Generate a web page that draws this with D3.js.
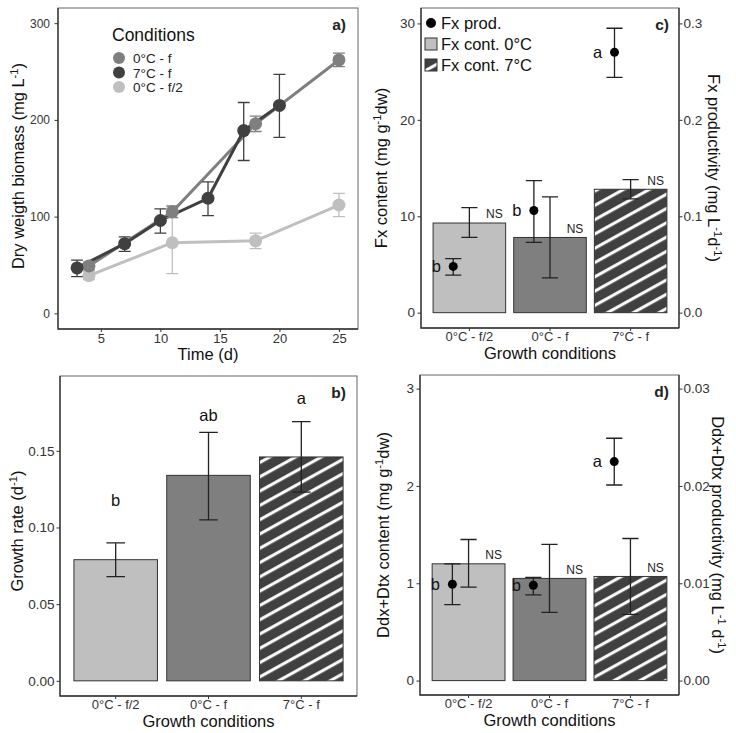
<!DOCTYPE html>
<html>
<head>
<meta charset="utf-8">
<script src="https://cdn.jsdelivr.net/npm/d3@7"></script>
<style>
  body { margin: 0; background: #fff; }
  text { font-family: Arial, "Liberation Sans", sans-serif; }
</style>
</head>
<body>
<svg id="fig" width="736" height="733"></svg>
<script>
// ---- data ----
const conditions = ['0°C - f/2', '0°C - f', '7°C - f'];

// a) biomass time course
const days0f = [4, 11, 18, 25];
const biomass0f = [49, 105, 196, 262];
const biomass0fLo = [45, 99, 188, 255];
const biomass0fHi = [53, 111, 204, 269];
const days7f = [3, 7, 10, 14, 17, 20];
const biomass7f = [47, 72, 96, 119, 189, 215];
const biomass7fLo = [38, 64, 83, 101, 158, 182];
const biomass7fHi = [55, 79, 108, 136, 218, 247];
const days0f2 = [4, 11, 18, 25];
const biomass0f2 = [39, 73, 75, 112];
const biomass0f2Lo = [35, 41, 67, 100];
const biomass0f2Hi = [43, 105, 83, 124];

// b) growth rate
const growthRate = [0.079, 0.134, 0.146];
const growthLo = [0.068, 0.105, 0.123];
const growthHi = [0.090, 0.162, 0.169];
const growthLetters = ['b', 'ab', 'a'];
const growthLetterY = [0.118, 0.173, 0.184];

// c) fucoxanthin
const fxContent = [9.3, 7.8, 12.8];
const fxContentLo = [7.8, 3.6, 11.8];
const fxContentHi = [10.9, 12.0, 13.8];
const fxProd = [0.048, 0.106, 0.270];
const fxProdLo = [0.039, 0.073, 0.244];
const fxProdHi = [0.056, 0.137, 0.295];
const fxLetters = ['b', 'b', 'a'];
const fxNS = [10.3, 8.7, 13.7];

// d) Ddx+Dtx
const ddxContent = [1.20, 1.05, 1.07];
const ddxContentLo = [0.96, 0.70, 0.68];
const ddxContentHi = [1.45, 1.40, 1.46];
const ddxProd = [0.0099, 0.0098, 0.0225];
const ddxProdLo = [0.0078, 0.0088, 0.0201];
const ddxProdHi = [0.0120, 0.0106, 0.0249];
const ddxLetters = ['b', 'b', 'a'];
const ddxNS = [1.29, 1.14, 1.16];

// tick labels
const ticksTime = [5, 10, 15, 20, 25];
const ticksBiomass = [0, 100, 200, 300];
const ticksGrowth = [0, 0.05, 0.10, 0.15];
const ticksFx = [0, 10, 20, 30];
const ticksFxProd = [0, 0.1, 0.2, 0.3];
const ticksDdx = [0, 1, 2, 3];
const ticksDdxProd = [0, 0.01, 0.02, 0.03];

// ---- styles ----
const cLight = '#bfbfbf', cMid = '#7f7f7f', cDark = '#404040';
const barFill = [cLight, cMid, 'url(#hatch)'];
const tickFont = '13px', yTickFont = '13.5px', titleFont = '16.5px';

const svg = d3.select('#fig');

const defs = svg.append('defs');
const hatch = defs.append('pattern')
  .attr('id', 'hatch')
  .attr('patternUnits', 'userSpaceOnUse')
  .attr('width', 12.5).attr('height', 12.5)
  .attr('patternTransform', 'rotate(-29)');
hatch.append('rect').attr('width', 12.5).attr('height', 12.5).attr('fill', cDark);
hatch.append('rect').attr('y', 4).attr('width', 12.5).attr('height', 3).attr('fill', '#fff');

// text with superscripts: parts = [['text'], ['-1', true], ...]
function rich(sel, parts) {
  let dy = 0;
  parts.forEach(p => {
    const t = sel.append('tspan').text(p[0]);
    if (p[1]) {
      t.attr('dy', dy - 6).attr('font-size', '0.68em');
      dy = 6;
    } else {
      if (dy) t.attr('dy', dy);
      dy = 0;
    }
  });
}

function frame(box) {
  svg.append('rect')
    .attr('x', box.l).attr('y', box.t)
    .attr('width', box.r - box.l).attr('height', box.b - box.t)
    .attr('fill', 'none').attr('stroke', '#666').attr('stroke-width', 1);
  svg.append('path')
    .attr('d', `M${box.l},${box.t}V${box.b}H${box.r}`)
    .attr('fill', 'none').attr('stroke', '#333').attr('stroke-width', 1.3);
}

function styleAxis(g, size) {
  g.select('.domain').remove();
  g.selectAll('.tick line').attr('stroke', '#333');
  g.selectAll('.tick text').attr('fill', '#333').style('font-size', size || tickFont);
}

function panelTag(x, y, label) {
  svg.append('text').attr('x', x).attr('y', y)
    .attr('text-anchor', 'end').style('font-size', '15.5px').style('font-weight', 'bold')
    .attr('fill', '#222').text(label);
}

function yTitle(x, y, parts, rot) {
  const t = svg.append('text')
    .attr('transform', `translate(${x},${y}) rotate(${rot || -90})`)
    .attr('text-anchor', 'middle').attr('dy', '0.35em')
    .style('font-size', titleFont).attr('fill', '#111');
  rich(t, parts);
}

function xTitle(x, y, txt) {
  svg.append('text').attr('x', x).attr('y', y)
    .attr('text-anchor', 'middle').style('font-size', titleFont).attr('fill', '#111')
    .text(txt);
}

function errorBars(g, xs, lo, hi, y, half, color) {
  xs.forEach((x, i) => {
    g.append('path')
      .attr('d', `M${x},${y(lo[i])}V${y(hi[i])}M${x - half},${y(lo[i])}H${x + half}M${x - half},${y(hi[i])}H${x + half}`)
      .attr('fill', 'none').attr('stroke', color).attr('stroke-width', 1.3);
  });
}

// ---- panel a ----
(function () {
  const box = { l: 58, t: 8, r: 358, b: 329 };
  const x = d3.scaleLinear().domain([1.4, 26.6]).range([box.l, box.r]);
  const y = d3.scaleLinear().domain([-16.2, 315.7]).range([box.b, box.t]);
  frame(box);

  const series = [
    { days: days0f2, v: biomass0f2, lo: biomass0f2Lo, hi: biomass0f2Hi, c: cLight },
    { days: days0f, v: biomass0f, lo: biomass0fLo, hi: biomass0fHi, c: cMid },
    { days: days7f, v: biomass7f, lo: biomass7fLo, hi: biomass7fHi, c: cDark }
  ];
  const g = svg.append('g');
  const line = d3.line().x(d => x(d[0])).y(d => y(d[1]));
  series.forEach(s => {
    g.append('path')
      .attr('d', line(d3.zip(s.days, s.v)))
      .attr('fill', 'none').attr('stroke', s.c).attr('stroke-width', 3);
  });
  const half = (x(1) - x(0)) / 2;
  series.forEach(s => errorBars(g, s.days.map(x), s.lo, s.hi, y, half, s.c));
  series.forEach(s => {
    g.selectAll(null).data(d3.zip(s.days, s.v)).enter()
      .append('circle')
      .attr('cx', d => x(d[0])).attr('cy', d => y(d[1]))
      .attr('r', 6.5).attr('fill', s.c);
  });

  const ax = svg.append('g').attr('transform', `translate(0,${box.b})`)
    .call(d3.axisBottom(x).tickValues(ticksTime).tickSize(3).tickPadding(1.5));
  styleAxis(ax, '13px');
  const ay = svg.append('g').attr('transform', `translate(${box.l},0)`)
    .call(d3.axisLeft(y).tickValues(ticksBiomass).tickSize(3.5).tickPadding(4.5));
  styleAxis(ay, '12px');

  // legend
  const leg = svg.append('g');
  leg.append('text').attr('x', 112).attr('y', 41).style('font-size', '17.5px').attr('fill', '#111').text('Conditions');
  const legItems = [['0°C - f', cMid], ['7°C - f', cDark], ['0°C - f/2', cLight]];
  legItems.forEach((d, i) => {
    const yy = 58 + i * 14.5;
    leg.append('circle').attr('cx', 119).attr('cy', yy).attr('r', 6).attr('fill', d[1]);
    leg.append('text').attr('x', 133).attr('y', yy + 5).style('font-size', '13.5px').attr('fill', '#222').text(d[0]);
  });

  panelTag(346, 30, 'a)');
  yTitle(18, 166, [['Dry weigth biomass (mg L'], ['-1', true], [')']]);
  xTitle((box.l + box.r) / 2, box.b + 31, 'Time (d)');
})();

// ---- bar panels ----
function bandScale(box) {
  return d3.scaleBand().domain(conditions).range([box.l, box.r]).paddingInner(0.1).paddingOuter(0.15);
}

function bars(g, x, y, values) {
  g.selectAll(null).data(values).enter()
    .append('rect')
    .attr('x', (d, i) => x(conditions[i]))
    .attr('width', x.bandwidth())
    .attr('y', d => y(d))
    .attr('height', d => y(0) - y(d))
    .attr('fill', (d, i) => barFill[i])
    .attr('stroke', '#333').attr('stroke-width', 1);
}

function xAxisBand(box, x) {
  const ax = svg.append('g').attr('transform', `translate(0,${box.b})`)
    .call(d3.axisBottom(x).tickSize(3).tickPadding(1));
  styleAxis(ax);
}

// ---- panel b ----
(function () {
  const box = { l: 60, t: 376, r: 357, b: 696 };
  const x = bandScale(box);
  const y = d3.scaleLinear().domain([-0.0099, 0.1988]).range([box.b, box.t]);
  frame(box);
  const g = svg.append('g');
  bars(g, x, y, growthRate);
  const cx = conditions.map(c => x(c) + x.bandwidth() / 2);
  errorBars(g, cx, growthLo, growthHi, y, x.step() * 0.1, '#222');
  g.selectAll(null).data(growthLetters).enter()
    .append('text')
    .attr('x', (d, i) => cx[i]).attr('y', (d, i) => y(growthLetterY[i]))
    .attr('dy', '0.35em').attr('text-anchor', 'middle')
    .style('font-size', '16.5px').attr('fill', '#111').text(d => d);

  xAxisBand(box, x);
  const ay = svg.append('g').attr('transform', `translate(${box.l},0)`)
    .call(d3.axisLeft(y).tickValues(ticksGrowth).tickFormat(d3.format('.2f')).tickSize(3.5).tickPadding(2));
  styleAxis(ay, yTickFont);

  panelTag(346, 398, 'b)');
  yTitle(17, 531, [['Growth rate (d'], ['-1', true], [')']]);
  xTitle((box.l + box.r) / 2, box.b + 31, 'Growth conditions');
})();

// pigment panel (c and d)
function pigmentPanel(opt) {
  const box = opt.box;
  const x = bandScale(box);
  const y = d3.scaleLinear().domain(opt.domain).range([box.b, box.t]);
  const y2 = d3.scaleLinear().domain(opt.domain.map(v => v / 100)).range([box.b, box.t]);
  frame(box);
  svg.append('line').attr('x1', box.r).attr('x2', box.r).attr('y1', box.t).attr('y2', box.b)
    .attr('stroke', '#333').attr('stroke-width', 1.3);

  const g = svg.append('g');
  bars(g, x, y, opt.content);
  const cx = conditions.map(c => x(c) + x.bandwidth() / 2);
  const px = cx.map(v => v - x.step() * 0.2);
  const half = x.step() * 0.1;
  errorBars(g, cx, opt.contentLo, opt.contentHi, y, half, '#222');
  errorBars(g, px, opt.prodLo, opt.prodHi, y2, half, '#222');
  g.selectAll(null).data(opt.prod).enter()
    .append('circle')
    .attr('cx', (d, i) => px[i]).attr('cy', d => y2(d))
    .attr('r', 4.5).attr('fill', '#000');
  g.selectAll(null).data(opt.letters).enter()
    .append('text')
    .attr('x', (d, i) => px[i] - 17).attr('y', (d, i) => y2(opt.prod[i]))
    .attr('dy', '0.35em').attr('text-anchor', 'middle')
    .style('font-size', '16.5px').attr('fill', '#111').text(d => d);
  g.selectAll(null).data(opt.ns).enter()
    .append('text')
    .attr('x', (d, i) => cx[i] + x.step() * 0.31).attr('y', d => y(d))
    .attr('dy', '0.35em').attr('text-anchor', 'middle')
    .style('font-size', '12px').attr('fill', '#222').text('NS');

  xAxisBand(box, x);
  const ay = svg.append('g').attr('transform', `translate(${box.l},0)`)
    .call(d3.axisLeft(y).tickValues(opt.ticks).tickFormat(d3.format('d')).tickSize(3.5).tickPadding(2.5));
  styleAxis(ay, yTickFont);
  const ay2 = svg.append('g').attr('transform', `translate(${box.r},0)`)
    .call(d3.axisRight(y2).tickValues(opt.ticks2).tickFormat(d3.format(opt.fmt2)).tickSize(3.5).tickPadding(1));
  styleAxis(ay2, yTickFont);

  panelTag(box.r - 10, box.t + 22, opt.tag);
  yTitle(opt.titleX, (box.t + box.b) / 2, opt.title);
  yTitle(opt.title2X, (box.t + box.b) / 2, opt.title2, 90);
  xTitle((box.l + box.r) / 2, box.b + 31, 'Growth conditions');
}

pigmentPanel({
  box: { l: 421, t: 8, r: 679, b: 328 },
  domain: [-1.59, 31.6],
  content: fxContent, contentLo: fxContentLo, contentHi: fxContentHi,
  prod: fxProd, prodLo: fxProdLo, prodHi: fxProdHi,
  letters: fxLetters, ns: fxNS,
  ticks: ticksFx, ticks2: ticksFxProd, fmt2: '.1f',
  tag: 'c)',
  titleX: 381, title: [['Fx content (mg g'], ['-1', true], ['dw)']],
  title2X: 714, title2: [['Fx productivity (mg L'], ['-1', true], ['d'], ['-1', true], [')']]
});

pigmentPanel({
  box: { l: 420, t: 375, r: 679, b: 695 },
  domain: [-0.148, 3.14],
  content: ddxContent, contentLo: ddxContentLo, contentHi: ddxContentHi,
  prod: ddxProd, prodLo: ddxProdLo, prodHi: ddxProdHi,
  letters: ddxLetters, ns: ddxNS,
  ticks: ticksDdx, ticks2: ticksDdxProd, fmt2: '.2f',
  tag: 'd)',
  titleX: 383, title: [['Ddx+Dtx content (mg g'], ['-1', true], ['dw)']],
  title2X: 718, title2: [['Ddx+Dtx productivity (mg L'], ['-1', true], [' d'], ['-1', true], [')']]
});

// legend c
(function () {
  const leg = svg.append('g');
  const items = [['Fx prod.', 'pt'], ['Fx cont. 0°C', cLight], ['Fx cont. 7°C', 'url(#hatch)']];
  items.forEach((d, i) => {
    const yy = 23 + i * 21;
    if (d[1] === 'pt') {
      leg.append('circle').attr('cx', 431).attr('cy', yy).attr('r', 5).attr('fill', '#000');
    } else {
      leg.append('rect').attr('x', 425).attr('y', yy - 6).attr('width', 12).attr('height', 12)
        .attr('fill', d[1]).attr('stroke', '#333').attr('stroke-width', 1);
    }
    leg.append('text').attr('x', 441).attr('y', yy + 6).style('font-size', '16.5px').attr('fill', '#111').text(d[0]);
  });
})();
</script>
</body>
</html>
